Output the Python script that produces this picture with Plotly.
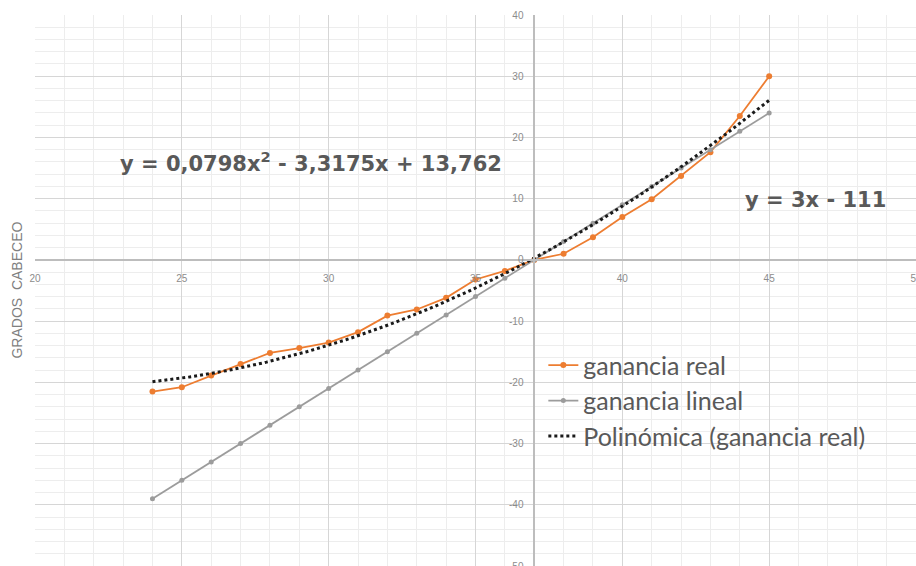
import plotly.graph_objects as go

# Measured heading response versus set point
x_vals = [24, 25, 26, 27, 28, 29, 30, 31, 32, 33, 34, 35, 36, 37, 38, 39, 40, 41, 42, 43, 44, 45]
ganancia_real = [-21.5, -20.8, -18.9, -17.0, -15.2, -14.4, -13.5, -11.8, -9.1, -8.1, -6.2,
                 -3.2, -1.8, 0.0, 1.0, 3.7, 7.0, 9.9, 13.7, 17.6, 23.5, 30.0]
ganancia_lineal = [-39, -36, -33, -30, -27, -24, -21, -18, -15, -12, -9,
                   -6, -3, 0, 3, 6, 9, 12, 15, 18, 21, 24]

# Second-order trendline coefficients for the measured series (a*x^2 + b*x + c)
poly_coef = [0.0798, -3.3175, 13.762]
poly_label = "y = 0,0798x<sup>2</sup> - 3,3175x + 13,762"
lin_label = "y = 3x - 111"

x_ticks = [20, 25, 30, 35, 40, 45, 50]
y_ticks = [40, 30, 20, 10, 0, -10, -20, -30, -40, -50]

X_RANGE = [20, 50]
Y_RANGE = [-50, 40]
X_CROSS = 37   # vertical axis crosses the horizontal one here
Y_CROSS = 0

ORANGE = "#ED7D31"
GRAY = "#9C9C9C"
TEXT = "#595959"

# trendline evaluated across the span of the data
n_steps = 200
x_fit = [x_vals[0] + (x_vals[-1] - x_vals[0]) * i / n_steps for i in range(n_steps + 1)]
y_fit = [poly_coef[0] * v * v + poly_coef[1] * v + poly_coef[2] for v in x_fit]

fig = go.Figure()
fig.add_trace(go.Scatter(
    x=x_vals, y=ganancia_real, mode="lines+markers", name="ganancia real",
    line=dict(color=ORANGE, width=1.8), marker=dict(color=ORANGE, size=6),
    legendgroup="a",
))
fig.add_trace(go.Scatter(
    x=x_vals, y=ganancia_lineal, mode="lines+markers", name="ganancia lineal",
    line=dict(color=GRAY, width=1.8), marker=dict(color=GRAY, size=5),
    legendgroup="b",
))
fig.add_trace(go.Scatter(
    x=x_fit, y=y_fit, mode="lines", name="Polinómica (ganancia real)",
    line=dict(color="#1a1a1a", width=3, dash="3px,3px"),
    legendgroup="c",
))

x_pos = (X_CROSS - X_RANGE[0]) / (X_RANGE[1] - X_RANGE[0])
y_pos = (Y_CROSS - Y_RANGE[0]) / (Y_RANGE[1] - Y_RANGE[0])

tick_font = dict(family="Liberation Sans, Arial", size=10, color="#8c8c8c")

fig.update_xaxes(
    range=X_RANGE, tickvals=x_ticks, ticktext=[str(v) for v in x_ticks],
    anchor="free", position=y_pos, showline=True, linecolor="#bdbdbd", linewidth=1.5,
    ticks="", tickfont=tick_font, ticklabelstandoff=9, ticklabeloverflow="allow",
    automargin=False,
    showgrid=True, gridcolor="#d6d6d6", gridwidth=1, zeroline=False,
    minor=dict(dtick=1, showgrid=True, gridcolor="#ededed", gridwidth=1),
)
fig.update_yaxes(
    range=Y_RANGE, tickvals=y_ticks, ticktext=[str(v) for v in y_ticks],
    anchor="free", position=x_pos, showline=True, linecolor="#bdbdbd", linewidth=1.5,
    ticks="", tickfont=tick_font, ticklabelstandoff=8, ticklabeloverflow="allow",
    automargin=False,
    showgrid=True, gridcolor="#d6d6d6", gridwidth=1, zeroline=False,
    minor=dict(dtick=2, showgrid=True, gridcolor="#ededed", gridwidth=1),
)

fig.add_annotation(
    text=poly_label, xref="paper", yref="paper", x=0.313, y=0.733,
    xanchor="center", yanchor="middle",
    showarrow=False, font=dict(family="DejaVu Sans", size=21, color=TEXT, weight="bold"),
)
fig.add_annotation(
    text=lin_label, xref="paper", yref="paper", x=0.886, y=0.665,
    xanchor="center", yanchor="middle",
    showarrow=False, font=dict(family="DejaVu Sans", size=21, color=TEXT, weight="bold"),
)
fig.add_annotation(
    text="GRADOS  CABECEO", xref="paper", yref="paper", x=-0.0215, y=0.5,
    xanchor="center", yanchor="middle",
    textangle=-90, showarrow=False,
    font=dict(family="Liberation Sans, Arial", size=14, color="#7f7f7f"),
)

fig.update_layout(
    width=916, height=566,
    margin=dict(l=35, r=0, t=15, b=0, autoexpand=False),
    paper_bgcolor="white", plot_bgcolor="white",
    showlegend=True,
    legend=dict(
        x=0.577, y=0.406, xanchor="left", yanchor="top",
        bgcolor="rgba(0,0,0,0)", font=dict(family="Lato, Open Sans", size=25, color=TEXT),
        traceorder="grouped", tracegroupgap=0, itemwidth=30,
    ),
)

fig.write_html("out.html")
